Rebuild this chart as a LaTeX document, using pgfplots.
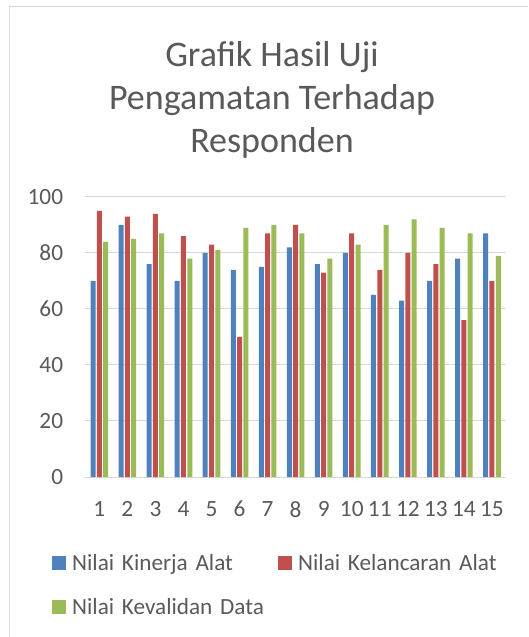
\documentclass[border=0pt]{standalone}
\usepackage{fontspec}
\setmainfont{Carlito}
\usepackage{pgfplots}
\pgfplotsset{compat=1.18}
\definecolor{cblue}{HTML}{4F81BD}
\definecolor{cred}{HTML}{C0504D}
\definecolor{cgreen}{HTML}{9BBB59}
\definecolor{ctext}{HTML}{595959}
\definecolor{cgrid}{HTML}{D9D9D9}
\pgfplotsset{sqleg/.style={legend image code/.code={\fill[##1] (0pt,-7pt) rectangle (14pt,7pt);}}}
\begin{document}
\begin{tikzpicture}
\useasboundingbox (0pt,0pt) rectangle (528pt,637pt);
\draw[cgrid, line width=1pt] (9pt,0pt) -- (9pt,630pt) -- (528pt,630pt);
\node[text=ctext, font=\fontsize{36}{42}\selectfont, anchor=base, inner sep=0pt] at (272pt,570pt) {Grafik Hasil Uji};
\node[text=ctext, font=\fontsize{36}{42}\selectfont, anchor=base, inner sep=0pt] at (272pt,527pt) {Pengamatan Terhadap};
\node[text=ctext, font=\fontsize{36}{42}\selectfont, anchor=base, inner sep=0pt] at (272pt,484pt) {Responden};
\begin{axis}[
  at={(85.3pt,160pt)}, anchor=south west, scale only axis,
  width=420.7pt, height=280pt,
  ybar=1.3pt, bar width=5pt,
  xmin=0.5, xmax=15.5, ymin=0, ymax=100,
  xtick={1,...,15}, ytick={0,20,...,100},
  axis line style={draw=none},
  major tick length=0pt,
  ymajorgrids, grid style={cgrid, line width=1pt},
  tick label style={text=ctext, font=\fontsize{23.3}{27}\selectfont},
  /pgf/number format/assume math mode=true,
  xticklabel style={anchor=north, inner sep=0pt, yshift=-24pt},
  yticklabel style={anchor=east, inner sep=0pt, xshift=-22pt},
  legend columns=2,
  legend cell align=left,
  legend style={at={(-0.0792,-0.2750)}, anchor=north west, draw=none, fill=none,
    inner xsep=0pt, inner ysep=0pt, font=\fontsize{23.2}{27}\selectfont, text=ctext,
    nodes={inner sep=0pt, text width=206pt}, row sep=26.6pt,
    /tikz/every odd column/.append style={column sep=6pt}},
]
\addplot[fill=cblue, draw=none, sqleg] coordinates {(1,70) (2,90) (3,76) (4,70) (5,80) (6,74) (7,75) (8,82) (9,76) (10,80) (11,65) (12,63) (13,70) (14,78) (15,87)};
\addlegendentry{Nilai Kinerja Alat}
\addplot[fill=cred, draw=none, sqleg] coordinates {(1,95) (2,93) (3,94) (4,86) (5,83) (6,50) (7,87) (8,90) (9,73) (10,87) (11,74) (12,80) (13,76) (14,56) (15,70)};
\addlegendentry{Nilai Kelancaran Alat}
\addplot[fill=cgreen, draw=none, sqleg] coordinates {(1,84) (2,85) (3,87) (4,78) (5,81) (6,89) (7,90) (8,87) (9,78) (10,83) (11,90) (12,92) (13,89) (14,87) (15,79)};
\addlegendentry{Nilai Kevalidan Data}
\end{axis}
\end{tikzpicture}
\end{document}
